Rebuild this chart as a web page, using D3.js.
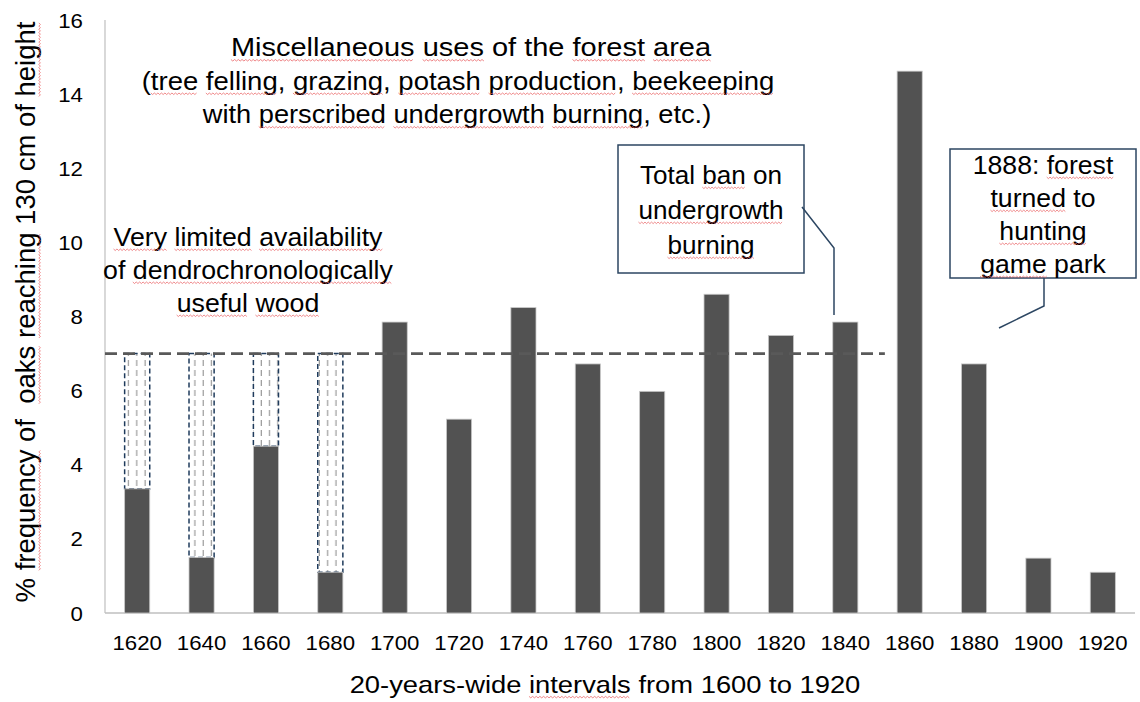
<!DOCTYPE html>
<html>
<head>
<meta charset="utf-8">
<script src="https://cdn.jsdelivr.net/npm/d3@7"></script>
<style>
  html, body { margin: 0; padding: 0; background: #fff; }
  svg { display: block; }
  text { font-family: "Liberation Sans", Arial, sans-serif; fill: #000; }
</style>
</head>
<body>
<svg id="chart" width="1140" height="702"></svg>
<script>
// ---- data ----
const categories = ["1620","1640","1660","1680","1700","1720","1740","1760","1780","1800","1820","1840","1860","1880","1900","1920"];
const values = [3.35, 1.5, 4.5, 1.1, 7.85, 5.23, 8.24, 6.72, 5.98, 8.6, 7.49, 7.85, 14.62, 6.72, 1.48, 1.1];
const uncertainCategories = ["1620","1640","1660","1680"];
const referenceLevel = 7.0;
const yTicks = [0, 2, 4, 6, 8, 10, 12, 14, 16];
const xTitle = "20-years-wide intervals from 1600 to 1920";
const yTitle = "% frequency of  oaks reaching 130 cm of height";
const noteTop = ["Miscellaneous uses of the forest area", "(tree felling, grazing, potash production, beekeeping", "with perscribed undergrowth burning, etc.)"];
const noteLeft = ["Very limited availability", "of dendrochronologically", "useful wood"];
const noteBan = ["Total ban on", "undergrowth", "burning"];
const noteGame = ["1888: forest", "turned to", "hunting", "game park"];
// words marked with the spell-check underline in the original
const flaggedWords = ["Miscellaneous","uses","forest","area","tree","felling","grazing","potash","production","beekeeping",
  "perscribed","undergrowth","burning","Very","limited","availability","dendrochronologically","useful","wood",
  "ban","turned","hunting","game","frequency","oaks","reaching","height","intervals"];

// ---- layout ----
const svg = d3.select("#chart");
const plotLeft = 105, plotRight = 1135, plotTop = 20, plotBottom = 613;

const x = d3.scaleBand().domain(categories).range([plotLeft, plotRight]).paddingInner(0.61).paddingOuter(0.305);
const y = d3.scaleLinear().domain([0, 16]).range([plotBottom, plotTop]);

// pattern for the uncertain portion
const defs = svg.append("defs");
const pat = defs.append("pattern").attr("id", "hatch").attr("patternUnits", "userSpaceOnUse")
  .attr("width", 8.3).attr("height", 10).attr("x", 0);
pat.append("line").attr("x1", 4).attr("x2", 4).attr("y1", 0).attr("y2", 6)
  .attr("stroke", "#9a9a9a").attr("stroke-width", 1.2);

// axes lines
svg.append("line").attr("x1", plotLeft).attr("x2", plotLeft).attr("y1", y(16)).attr("y2", plotBottom)
  .attr("stroke", "#bfbfbf").attr("stroke-width", 1.2);
svg.append("line").attr("x1", plotLeft).attr("x2", plotRight).attr("y1", plotBottom).attr("y2", plotBottom)
  .attr("stroke", "#bfbfbf").attr("stroke-width", 1.5);

// y tick labels
svg.append("g").selectAll("text").data(yTicks).join("text")
  .attr("transform", d => `translate(83,${y(d)}) scale(1.06,1)`).attr("dy", "0.36em")
  .attr("text-anchor", "end").attr("font-size", 21).text(d => d);

// x tick labels
svg.append("g").selectAll("text").data(categories).join("text")
  .attr("transform", d => `translate(${x(d) + x.bandwidth() / 2},650) scale(1.06,1)`)
  .attr("text-anchor", "middle").attr("font-size", 21).text(d => d);

// text with spell-check squiggles
const squiggleLayer = svg.append("g");
function drawText(str, transform, size) {
  const t = svg.append("text").attr("transform", transform).attr("text-anchor", "middle")
    .attr("font-size", size).style("white-space", "pre").text(str);
  const node = t.node();
  const re = /[A-Za-z]+/g;
  let m;
  while ((m = re.exec(str)) !== null) {
    if (!flaggedWords.includes(m[0])) continue;
    const start = node.getStartPositionOfChar(m.index).x;
    const len = node.getSubStringLength(m.index, m[0].length);
    const yb = size * 0.14;
    const pts = [];
    const step = 1.6;
    for (let k = 0; start + k * step <= start + len; k++) {
      pts.push([start + k * step, yb + (k % 2 === 0 ? 0 : 1.5)]);
    }
    squiggleLayer.append("path").attr("transform", transform)
      .attr("d", d3.line()(pts)).attr("fill", "none")
      .attr("stroke", "#e8595b").attr("stroke-width", 0.8).attr("opacity", 0.85);
  }
}

// axis titles
drawText(xTitle, "translate(605,693) scale(1.14,1)", 24);
drawText(yTitle, "translate(35,312) rotate(-90)", 27.5);

// uncertain boxes (from bar top up to reference level)
const unc = categories.map((c, i) => ({c, v: values[i]})).filter(d => uncertainCategories.includes(d.c));
svg.append("g").selectAll("rect").data(unc).join("rect")
  .attr("x", d => x(d.c)).attr("width", x.bandwidth())
  .attr("y", y(referenceLevel)).attr("height", d => y(d.v) - y(referenceLevel))
  .attr("fill", "url(#hatch)").attr("stroke", "#1f3b5c").attr("stroke-width", 1.5)
  .attr("stroke-dasharray", "5,3");

// bars
const data = categories.map((c, i) => ({c, v: values[i]}));
svg.append("g").selectAll("rect").data(data).join("rect")
  .attr("x", d => x(d.c)).attr("width", x.bandwidth())
  .attr("y", d => y(d.v)).attr("height", d => plotBottom - y(d.v))
  .attr("fill", "#525252").attr("stroke", "#c8c8c8").attr("stroke-width", 0.8);

// reference dashed line
svg.append("line").attr("x1", plotLeft).attr("x2", x("1840") + x.bandwidth() + 27)
  .attr("y1", y(referenceLevel)).attr("y2", y(referenceLevel))
  .attr("stroke", "#595959").attr("stroke-width", 2.8).attr("stroke-dasharray", "12,6");

// multi-line text helper
function lines(arr, cx, y0, dy, size, sx) {
  arr.forEach((s, i) => {
    const k = Array.isArray(sx) ? sx[i] : sx;
    const c = Array.isArray(cx) ? cx[i] : cx;
    drawText(s, `translate(${c},${y0 + i * dy}) scale(${k},1)`, size);
  });
}
lines(noteTop, [471, 458, 457], 56, 33.5, 25, [1.16, 1.10, 1.09]);
lines(noteLeft, 248, 245.5, 33, 25, 1.07);

// annotation: total ban
const navy = "#2c4662";
svg.append("rect").attr("x", 618).attr("y", 145).attr("width", 186).attr("height", 128)
  .attr("fill", "#fff").attr("stroke", navy).attr("stroke-width", 1.5);
svg.append("polyline").attr("points", `802,207 834,248 834,${y(values[11]) - 7}`)
  .attr("fill", "none").attr("stroke", navy).attr("stroke-width", 1.5);

// annotation: game park
svg.append("rect").attr("x", 950).attr("y", 149).attr("width", 186).attr("height", 129)
  .attr("fill", "#fff").attr("stroke", navy).attr("stroke-width", 1.5);
svg.append("polyline").attr("points", `1044,278 1044,306 999,328`)
  .attr("fill", "none").attr("stroke", navy).attr("stroke-width", 1.5);

lines(noteBan, 711, 183.5, 35, 25.6, 1.02);
lines(noteGame, 1043, 173.5, 33, 25.6, 1.04);
squiggleLayer.raise();
</script>
</body>
</html>
